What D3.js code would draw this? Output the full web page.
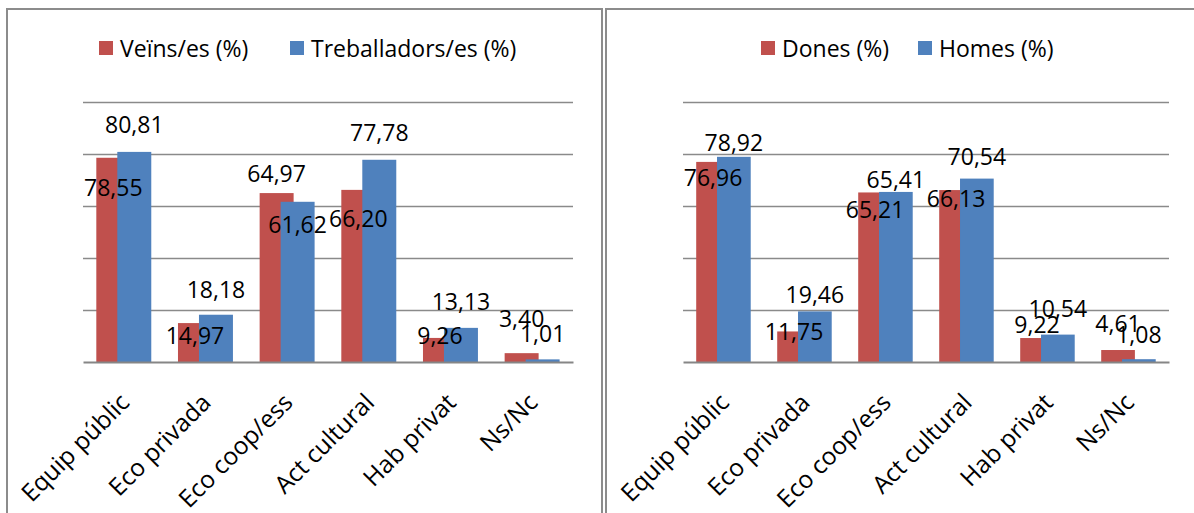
<!DOCTYPE html>
<html>
<head>
<meta charset="utf-8">
<script src="https://cdn.jsdelivr.net/npm/d3@7"></script>
<style>
  body { margin: 0; background: #fff; }
  text { font-family: "Open Sans", sans-serif; fill: #000; }
</style>
</head>
<body>
<div id="chart"></div>
<script>
const categories = ["Equip públic", "Eco privada", "Eco coop/ess", "Act cultural", "Hab privat", "Ns/Nc"];
const veins = [78.55, 14.97, 64.97, 66.20, 9.26, 3.40];
const treballadors = [80.81, 18.18, 61.62, 77.78, 13.13, 1.01];
const dones = [76.96, 11.75, 65.21, 66.13, 9.22, 4.61];
const homes = [78.92, 19.46, 65.41, 70.54, 10.54, 1.08];
const yTicks = [20, 40, 60, 80, 100];

// label nudges (px from bar top), as placed in the original
const veinsDy = [38, 21, -11.4, 36.8, 6.4, -26.5];
const treballadorsDy = [-18.6, -17, 31.5, -18.8, -18, -17.7];
const donesDy = [24.1, 8.6, 25.9, 16.6, -4.7, -17.7];
const homesDy = [-5.8, -8.7, -3.6, -13.6, -17.9, -15.9];

const red = "#C0504D", blue = "#4F81BD";
const fmt = d3.formatLocale({ decimal: ",", thousands: ".", grouping: [3], currency: ["", "€"] }).format(".2f");

const svg = d3.select("#chart")
    .append("svg")
    .attr("width", 1194)
    .attr("height", 513);

// panel frames
svg.append("rect")
    .attr("x", 7).attr("y", 9).attr("width", 595).attr("height", 600)
    .attr("fill", "none").attr("stroke", "#8c8c8c").attr("stroke-width", 2);
svg.append("rect")
    .attr("x", 606).attr("y", 9).attr("width", 700).attr("height", 600)
    .attr("fill", "none").attr("stroke", "#8c8c8c").attr("stroke-width", 2);

function drawPanel(opts) {
    const y = d3.scaleLinear().domain([0, 100]).range([362, 102]);
    const x = d3.scaleBand().domain(categories).range([opts.x0, opts.x1]);
    const bw = x.bandwidth();
    const barW = bw * 0.416, shift = bw * 0.257, start = bw * 0.163;

    const g = svg.append("g");

    g.append("g")
        .call(d3.axisLeft(y).tickValues(yTicks).tickSize(-(opts.x1 - opts.x0)).tickFormat(""))
        .attr("transform", `translate(${opts.x0},0)`)
        .call(a => a.select(".domain").remove())
        .selectAll("line")
        .attr("stroke", "#8a8a8a")
        .attr("stroke-width", 1.6);

    const series = [
        { values: opts.a, color: red, off: start, dy: opts.aDy },
        { values: opts.b, color: blue, off: start + shift, dy: opts.bDy }
    ];

    series.forEach(s => {
        g.append("g").selectAll("rect")
            .data(s.values)
            .join("rect")
            .attr("x", (d, i) => x(categories[i]) + s.off)
            .attr("width", barW)
            .attr("y", d => y(d))
            .attr("height", d => y(0) - y(d))
            .attr("fill", s.color);
    });

    series.forEach(s => {
        g.append("g").selectAll("text")
            .data(s.values)
            .join("text")
            .attr("x", (d, i) => x(categories[i]) + s.off + barW / 2)
            .attr("y", (d, i) => y(d) + s.dy[i])
            .attr("text-anchor", "middle")
            .attr("font-size", 23)
            .text(d => fmt(d));
    });

    const axis = g.append("g")
        .attr("transform", `translate(0,${y(0)})`)
        .call(d3.axisBottom(x).tickSize(0).tickSizeOuter(0));
    axis.select(".domain").attr("stroke", "#868686").attr("stroke-width", 2.2);
    axis.selectAll("text")
        .attr("y", 0).attr("dy", 0)
        .attr("font-size", 24.5)
        .attr("font-family", "Open Sans")
        .attr("fill", "#000")
        .attr("text-anchor", "end")
        .attr("transform", "translate(7,42) rotate(-45)");

    // legend
    const leg = g.append("g");
    opts.legend.forEach(l => {
        leg.append("rect")
            .attr("x", l.x).attr("y", 41).attr("width", 14).attr("height", 14)
            .attr("fill", l.color);
        leg.append("text")
            .attr("x", l.x + 21).attr("y", 57)
            .attr("font-size", 23)
            .text(l.label);
    });
}

drawPanel({
    x0: 83, x1: 573,
    a: veins, b: treballadors, aDy: veinsDy, bDy: treballadorsDy,
    legend: [
        { x: 99, color: red, label: "Veïns/es (%)" },
        { x: 290, color: blue, label: "Treballadors/es (%)" }
    ]
});

drawPanel({
    x0: 683, x1: 1169,
    a: dones, b: homes, aDy: donesDy, bDy: homesDy,
    legend: [
        { x: 761, color: red, label: "Dones (%)" },
        { x: 918, color: blue, label: "Homes (%)" }
    ]
});
</script>
</body>
</html>
